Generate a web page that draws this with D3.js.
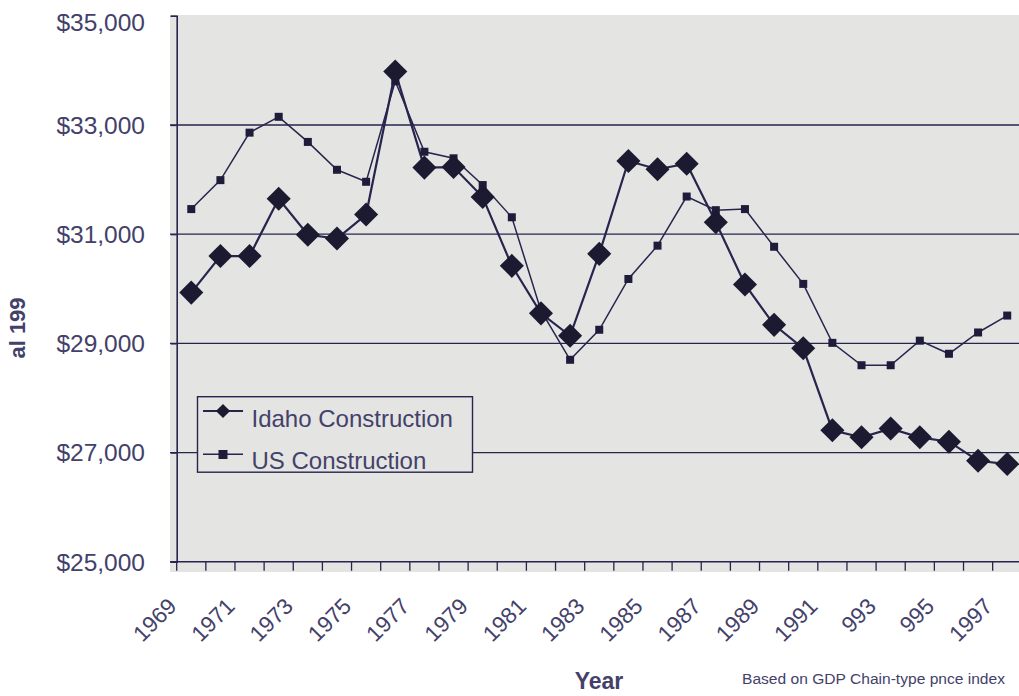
<!DOCTYPE html>
<html>
<head>
<meta charset="utf-8">
<script src="https://cdn.jsdelivr.net/npm/d3@7"></script>
<style>
  html, body { margin: 0; padding: 0; background: #ffffff; }
  svg { display: block; }
  text { font-family: "Liberation Sans", Arial, sans-serif; fill: #43416a; }
</style>
</head>
<body>
<svg id="chart" width="1019" height="696"></svg>
<script>
// ---- data ----
const years = d3.range(1969, 1998).map(String);
const idaho = [29930, 30600, 30600, 31650, 30990, 30920, 31360, 33980, 32220, 32230,
               31680, 30420, 29550, 29140, 30640, 32340, 32190, 32290, 31220, 30080,
               29340, 28910, 27410, 27280, 27440, 27280, 27200, 26850, 26790];
const us = [31460, 31990, 32860, 33150, 32690, 32180, 31960, 33800, 32510, 32390,
            31900, 31310, 29600, 28700, 29250, 30180, 30790, 31690, 31440, 31460,
            30770, 30090, 29010, 28600, 28600, 29050, 28810, 29200, 29510];
const xTickLabels = ["1969", "1971", "1973", "1975", "1977", "1979", "1981", "1983",
                     "1985", "1987", "1989", "1991", "993", "995", "1997"];
const yTicks = [25000, 27000, 29000, 31000, 33000, 35000];
const seriesNames = ["Idaho Construction", "US Construction"];

// ---- layout ----
const svg = d3.select("#chart");
const lineColor = "#27254d";
const x = d3.scaleBand().domain(years).range([176.7, 1021.8]).padding(0);
const y = d3.scaleLinear().domain([25000, 35000]).range([561.8, 15.8]);
const cx = d => x(d) + x.bandwidth() / 2;

// plot background
svg.append("rect").attr("x", 170).attr("y", 15).attr("width", 860).attr("height", 557)
  .attr("fill", "#e4e4e2");

// gridlines
svg.append("g").selectAll("line").data([27000, 29000, 31000, 33000]).join("line")
  .attr("x1", 170).attr("x2", 1019).attr("y1", d => y(d)).attr("y2", d => y(d))
  .attr("stroke", lineColor).attr("stroke-width", 1.3);

// y axis
const yAxis = d3.axisLeft(y).tickValues(yTicks).tickSize(6).tickFormat(() => "");
const gy = svg.append("g").attr("transform", "translate(176.7,0)").call(yAxis);
gy.select(".domain").attr("stroke", lineColor).attr("stroke-width", 1.6);
gy.selectAll(".tick line").attr("stroke", lineColor).attr("stroke-width", 1.3);

// y tick labels
const fmt = d3.format("$,");
svg.append("g").selectAll("text").data(yTicks).join("text")
  .attr("x", 145).attr("y", d => d === 35000 ? y(d) + 6 : y(d))
  .attr("dy", "0.36em").attr("text-anchor", "end")
  .style("font-size", "24.5px").text(d => fmt(d));

// x axis
const xAxis = d3.axisBottom(x).tickSize(0).tickFormat(() => "");
const gx = svg.append("g").attr("transform", `translate(0,${y(25000)})`).call(xAxis);
gx.select(".domain").attr("stroke", lineColor).attr("stroke-width", 1.6).attr("d", "M170,0H1019");
// tick marks at category boundaries
svg.append("g").selectAll("line").data(years).join("line")
  .attr("x1", d => x(d)).attr("x2", d => x(d))
  .attr("y1", y(25000)).attr("y2", y(25000) + 9)
  .attr("stroke", lineColor).attr("stroke-width", 1.3);

// x tick labels
const labelYears = years.filter((d, i) => i % 2 === 0);
svg.append("g").selectAll("text").data(labelYears).join("text")
  .attr("transform", (d) => `translate(${cx(d) - 19},${602}) rotate(-45)`)
  .attr("text-anchor", "end").attr("dy", "0.35em")
  .style("font-size", "22.5px")
  .text((d, i) => xTickLabels[i]);

// lines
const lineGen = d3.line().x((d, i) => cx(years[i])).y(d => y(d));
svg.append("path").datum(us).attr("d", lineGen)
  .attr("fill", "none").attr("stroke", lineColor).attr("stroke-width", 1.5);
svg.append("path").datum(idaho).attr("d", lineGen)
  .attr("fill", "none").attr("stroke", lineColor).attr("stroke-width", 2.2);

// US squares
svg.append("g").selectAll("rect").data(us).join("rect")
  .attr("x", (d, i) => cx(years[i]) - 4).attr("y", d => y(d) - 4)
  .attr("width", 8).attr("height", 8).attr("fill", "#1e1c3a");

// Idaho diamonds
const diamond = d3.symbol().type(d3.symbolSquare).size(290);
svg.append("g").selectAll("path").data(idaho).join("path")
  .attr("d", diamond)
  .attr("transform", (d, i) => `translate(${cx(years[i])},${y(d)}) rotate(45)`)
  .attr("fill", "#1b1a30");

// legend
const lg = svg.append("g");
lg.append("rect").attr("x", 197.5).attr("y", 396.7).attr("width", 275).attr("height", 75.5)
  .attr("fill", "#e4e4e2").attr("stroke", lineColor).attr("stroke-width", 1.4);
// Idaho entry
lg.append("line").attr("x1", 203).attr("x2", 243).attr("y1", 411).attr("y2", 411)
  .attr("stroke", lineColor).attr("stroke-width", 2.2);
lg.append("path").attr("d", d3.symbol().type(d3.symbolSquare).size(100))
  .attr("transform", "translate(223,411) rotate(45)").attr("fill", "#1b1a30");
lg.append("text").attr("x", 251.5).attr("y", 427).style("font-size", "24px").text(seriesNames[0]);
// US entry
lg.append("line").attr("x1", 203).attr("x2", 243).attr("y1", 454.3).attr("y2", 454.3)
  .attr("stroke", lineColor).attr("stroke-width", 1.5);
lg.append("rect").attr("x", 218.5).attr("y", 450).attr("width", 9).attr("height", 9).attr("fill", "#1e1c3a");
lg.append("text").attr("x", 251.5).attr("y", 468.5).style("font-size", "24px").text(seriesNames[1]);

// axis titles
svg.append("text").attr("transform", "translate(25,328) rotate(-90)")
  .attr("text-anchor", "middle").style("font-size", "22px").style("font-weight", "bold")
  .text("al 199");
svg.append("text").attr("x", 599).attr("y", 689).attr("text-anchor", "middle")
  .style("font-size", "23px").style("font-weight", "bold").text("Year");
svg.append("text").attr("x", 742).attr("y", 684)
  .attr("textLength", 263).attr("lengthAdjust", "spacingAndGlyphs")
  .style("font-size", "14px").text("Based on GDP Chain-type pnce index");
</script>
</body>
</html>
